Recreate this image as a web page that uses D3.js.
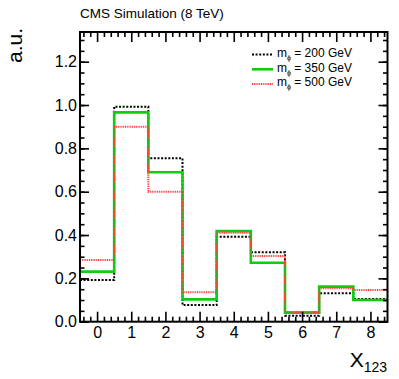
<!DOCTYPE html>
<html>
<head>
<meta charset="utf-8">
<script src="https://cdn.jsdelivr.net/npm/d3@7"></script>
<style>
  body { margin: 0; background: #fff; }
  text { font-family: "Liberation Sans", Arial, Helvetica, sans-serif; fill: #000; }
</style>
</head>
<body>
<div id="app"></div>
<script>
// bin centres of X_123
var bins = [0, 1, 2, 3, 4, 5, 6, 7, 8];
// normalised yields per bin
var m200 = [0.192, 0.992, 0.754, 0.077, 0.392, 0.320, 0.028, 0.131, 0.105];
var m350 = [0.231, 0.966, 0.690, 0.103, 0.418, 0.272, 0.042, 0.162, 0.100];
var m500 = [0.285, 0.900, 0.600, 0.136, 0.410, 0.303, 0.045, 0.154, 0.146];
var legendLabels = ['200 GeV', '350 GeV', '500 GeV'];
var yTicks = [0, 0.2, 0.4, 0.6, 0.8, 1.0, 1.2];

var width = 399, height = 379;
var frame = { left: 80, right: 387.5, top: 32, bottom: 321.7 };

var svg = d3.select('#app').append('svg')
    .attr('width', width)
    .attr('height', height);

var x = d3.scaleLinear().domain([-0.5, 8.5]).range([frame.left, frame.right]);
var y = d3.scaleLinear().domain([0, 1.337]).range([frame.bottom, frame.top]);

// histogram outlines as steps
function stepPoints(values) {
    var pts = [];
    bins.forEach(function(b, i) {
        pts.push([b - 0.5, values[i]]);
        pts.push([b + 0.5, values[i]]);
    });
    return pts;
}
var line = d3.line()
    .x(function(d) { return x(d[0]); })
    .y(function(d) { return y(d[1]); });

var series = [
    { values: m200, color: '#000', width: 2, dash: '2,1.6' },
    { values: m350, color: '#11cc11', width: 2.6, dash: null },
    { values: m500, color: '#ff3b3b', width: 2, dash: '1,0.8' }
];

series.forEach(function(s) {
    svg.append('path')
        .attr('d', line(stepPoints(s.values)))
        .attr('fill', 'none')
        .attr('stroke', s.color)
        .attr('stroke-width', s.width)
        .attr('stroke-dasharray', s.dash);
});

// axes, ticks on the inside on all four sides
function styleAxis(g) {
    g.select('.domain').remove();
    g.selectAll('line').attr('stroke', '#000').attr('stroke-width', 1.6);
    g.selectAll('text')
        .style('font-family', '"Liberation Sans", Arial, sans-serif')
        .style('font-size', '16px');
}
var yMinor = d3.range(0, 1.34, 0.05);
var xMinor = d3.range(-0.4, 8.5, 0.2).filter(function(v) {
    return Math.abs(v - Math.round(v)) > 0.01;
});

svg.append('g').attr('transform', 'translate(0,' + frame.bottom + ')')
    .call(d3.axisBottom(x).tickValues(bins).tickSize(-10).tickPadding(5).tickFormat(d3.format('d')))
    .call(styleAxis);
svg.append('g').attr('transform', 'translate(0,' + frame.bottom + ')')
    .call(d3.axisBottom(x).tickValues(xMinor).tickSize(-5).tickFormat(''))
    .call(styleAxis);
svg.append('g').attr('transform', 'translate(0,' + frame.top + ')')
    .call(d3.axisTop(x).tickValues(bins).tickSize(-10).tickFormat(''))
    .call(styleAxis);
svg.append('g').attr('transform', 'translate(0,' + frame.top + ')')
    .call(d3.axisTop(x).tickValues(xMinor).tickSize(-5).tickFormat(''))
    .call(styleAxis);

svg.append('g').attr('transform', 'translate(' + frame.left + ',0)')
    .call(d3.axisLeft(y).tickValues(yTicks).tickSize(-9).tickPadding(3).tickFormat(d3.format('.1f')))
    .call(styleAxis);
svg.append('g').attr('transform', 'translate(' + frame.left + ',0)')
    .call(d3.axisLeft(y).tickValues(yMinor).tickSize(-4.5).tickFormat(''))
    .call(styleAxis);
svg.append('g').attr('transform', 'translate(' + frame.right + ',0)')
    .call(d3.axisRight(y).tickValues(yTicks).tickSize(-9).tickFormat(''))
    .call(styleAxis);
svg.append('g').attr('transform', 'translate(' + frame.right + ',0)')
    .call(d3.axisRight(y).tickValues(yMinor).tickSize(-4.5).tickFormat(''))
    .call(styleAxis);

// frame
svg.append('rect')
    .attr('x', frame.left).attr('y', frame.top)
    .attr('width', frame.right - frame.left).attr('height', frame.bottom - frame.top)
    .attr('fill', 'none')
    .attr('stroke', '#000')
    .attr('stroke-width', 2);

// title and axis titles
svg.append('text')
    .attr('x', 80).attr('y', 17.5)
    .style('font-size', '13.5px')
    .text('CMS Simulation (8 TeV)');

svg.append('text')
    .attr('transform', 'translate(21.5,28) rotate(-90)')
    .attr('text-anchor', 'end')
    .style('font-size', '21px')
    .text('a.u.');

var xt = svg.append('text')
    .attr('x', 387).attr('y', 366.7)
    .attr('text-anchor', 'end')
    .style('font-size', '21px');
xt.append('tspan').text('X');
xt.append('tspan').attr('dy', 5.6).style('font-size', '14px').text('123');

// legend
var legend = svg.append('g');
series.forEach(function(s, i) {
    var ly = 54.5 + i * 14.8;
    legend.append('line')
        .attr('x1', 252).attr('x2', 273)
        .attr('y1', ly).attr('y2', ly)
        .attr('stroke', s.color)
        .attr('stroke-width', s.width)
        .attr('stroke-dasharray', s.dash);
    var t = legend.append('text')
        .attr('x', 277).attr('y', ly + 2.3)
        .style('font-size', '12px');
    t.append('tspan').text('m');
    t.append('tspan').attr('dy', 3).style('font-size', '7px').text('\u03d5');
    t.append('tspan').attr('dy', -3).text(' = ' + legendLabels[i]);
});
</script>
</body>
</html>
